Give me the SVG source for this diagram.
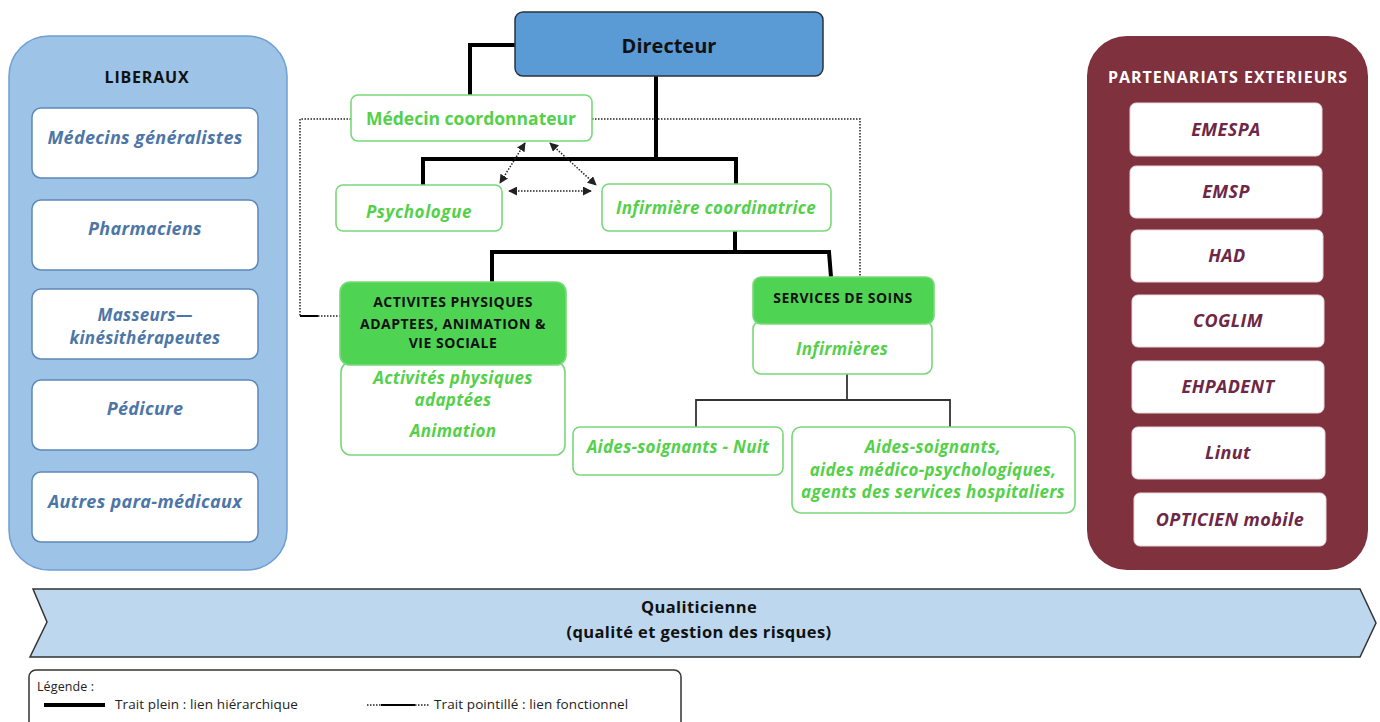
<svg xmlns="http://www.w3.org/2000/svg" width="1380" height="722" viewBox="0 0 1380 722">
<style>
text{font-family:"Open Sans","Noto Sans","Liberation Sans",sans-serif;text-anchor:middle}
.lib{fill:#fff;stroke:#5d88ba;stroke-width:1.5}
.libt{fill:#4d76a8;font-weight:bold;font-style:italic;font-size:18px;letter-spacing:0.3px}
.par{fill:#fff;stroke:#e9d7dc;stroke-width:1}
.part{fill:#6e2746;font-weight:bold;font-style:italic;font-size:18px;letter-spacing:0.4px}
.gbox{fill:#fff;stroke:#79d97a;stroke-width:1.6}
.gfill{fill:#4fd353;stroke:#79d97a;stroke-width:1.6}
.gt{fill:#55d04b;font-weight:bold;font-style:italic;font-size:17px;letter-spacing:0.3px}
.cap{fill:#111;font-weight:bold;font-size:14px;letter-spacing:0.5px}
.hier{fill:none;stroke:#000;stroke-width:4}
.thin{fill:none;stroke:#333;stroke-width:1.8}
.dot{fill:none;stroke:#222;stroke-width:1.5;stroke-dasharray:1.5 1.5}
.leg{font-size:13.5px;fill:#222;text-anchor:start;letter-spacing:0.1px}
.q{font-size:16.5px;font-weight:bold;fill:#111;letter-spacing:0.4px}
</style>
<defs>
<marker id="ah" viewBox="0 0 10 10" refX="9" refY="5" markerWidth="6" markerHeight="6" orient="auto-start-reverse">
<path d="M0,0 L10,5 L0,10 z" fill="#222"/>
</marker>
</defs>

<g id="liberaux">
<rect x="9" y="36" width="278" height="534" rx="40" fill="#9dc3e6" stroke="#6f9fd3" stroke-width="1.5"/>
<text x="147" y="83" class="cap" style="font-size:16px;letter-spacing:0.8px">LIBERAUX</text>
<rect class="lib" x="32" y="108" width="226" height="70" rx="9"/>
<text class="libt" x="145" y="144">Médecins généralistes</text>
<rect class="lib" x="32" y="200" width="226" height="70" rx="9"/>
<text class="libt" x="145" y="235">Pharmaciens</text>
<rect class="lib" x="32" y="289" width="226" height="70" rx="9"/>
<text class="libt" x="145" y="321" style="font-size:17px">Masseurs—</text>
<text class="libt" x="145" y="344" style="font-size:17px">kinésithérapeutes</text>
<rect class="lib" x="32" y="380" width="226" height="70" rx="9"/>
<text class="libt" x="145" y="415">Pédicure</text>
<rect class="lib" x="32" y="472" width="226" height="70" rx="9"/>
<text class="libt" x="145" y="508">Autres para-médicaux</text>
</g>

<g id="partenariats">
<rect x="1087" y="36" width="281" height="534" rx="40" fill="#7f313d"/>
<text x="1228" y="83" class="cap" style="font-size:16px;letter-spacing:1px;fill:#fff">PARTENARIATS EXTERIEURS</text>
<rect class="par" x="1130" y="103" width="192" height="53" rx="6"/>
<text class="part" x="1226" y="136">EMESPA</text>
<rect class="par" x="1130" y="166" width="192" height="52" rx="6"/>
<text class="part" x="1226" y="198">EMSP</text>
<rect class="par" x="1131" y="230" width="192" height="52" rx="6"/>
<text class="part" x="1227" y="262">HAD</text>
<rect class="par" x="1132" y="295" width="192" height="52" rx="6"/>
<text class="part" x="1228" y="327">COGLIM</text>
<rect class="par" x="1132" y="361" width="192" height="52" rx="6"/>
<text class="part" x="1228" y="393">EHPADENT</text>
<rect class="par" x="1132" y="427" width="193" height="52" rx="6"/>
<text class="part" x="1228" y="459">Linut</text>
<rect class="par" x="1134" y="493" width="192" height="53" rx="6"/>
<text class="part" x="1230" y="526">OPTICIEN mobile</text>
</g>

<g id="connectors">
<path class="hier" d="M515,45 H470 V95"/>
<path class="hier" d="M656,76 V159 M423,185 V159 H736 V184"/>
<path class="hier" d="M735,231 V252 M492,282 V252 H829 L831,277"/>
<path class="thin" d="M847,374 V400 M696,427 V400 H950 V427"/>
<path class="dot" d="M351,119 H300 V316 H313"/>
<path fill="none" stroke="#000" stroke-width="2" d="M300,316 H318"/>
<path class="dot" d="M318,316 H340"/>
<path class="dot" d="M592,119 H860 V277"/>
<path class="dot" d="M525,143 L500,183" marker-start="url(#ah)" marker-end="url(#ah)"/>
<path class="dot" d="M550,143 L596,185" marker-start="url(#ah)" marker-end="url(#ah)"/>
<path class="dot" d="M509,191 L591,191" marker-start="url(#ah)" marker-end="url(#ah)"/>
</g>

<g id="directeur">
<rect x="515" y="12" width="308" height="64" rx="8" fill="#5b9bd5" stroke="#2b3340" stroke-width="1.5"/>
<text x="669" y="53" style="font-size:20px;font-weight:bold;fill:#111">Directeur</text>
</g>

<g id="medecin">
<rect class="gbox" x="351" y="95" width="241" height="46" rx="7"/>
<text x="471" y="125" class="gt" style="font-style:normal;font-size:17.5px;letter-spacing:0">Médecin coordonnateur</text>
</g>

<g id="psychologue">
<rect class="gbox" x="336" y="185" width="166" height="46" rx="7"/>
<text x="419" y="218" class="gt" style="letter-spacing:0.6px">Psychologue</text>
</g>

<g id="infirmiere-coord">
<rect class="gbox" x="602" y="184" width="229" height="47" rx="7"/>
<text x="716" y="214" class="gt">Infirmière coordinatrice</text>
</g>

<g id="activites">
<rect class="gbox" x="341" y="362" width="224" height="93" rx="10"/>
<rect class="gfill" x="340" y="282" width="226" height="83" rx="10"/>
<text class="cap" x="453" y="307">ACTIVITES PHYSIQUES</text>
<text class="cap" x="453" y="329">ADAPTEES, ANIMATION &amp;</text>
<text class="cap" x="453" y="348">VIE SOCIALE</text>
<text class="gt" x="453" y="384">Activités physiques</text>
<text class="gt" x="453" y="406">adaptées</text>
<text class="gt" x="453" y="437">Animation</text>
</g>

<g id="services">
<rect class="gbox" x="753" y="321" width="179" height="53" rx="8"/>
<rect class="gfill" x="753" y="277" width="181" height="47" rx="8"/>
<text class="cap" x="843" y="303">SERVICES DE SOINS</text>
<text class="gt" x="842" y="355">Infirmières</text>
</g>

<g id="as-nuit">
<rect class="gbox" x="573" y="427" width="210" height="48" rx="7"/>
<text class="gt" x="678" y="453">Aides-soignants  - Nuit</text>
</g>

<g id="as-jour">
<rect class="gbox" x="792" y="427" width="283" height="86" rx="9"/>
<text class="gt" x="933" y="453">Aides-soignants,</text>
<text class="gt" x="933" y="476">aides  médico-psychologiques,</text>
<text class="gt" x="933" y="498">agents des services  hospitaliers</text>
</g>

<g id="qualiticienne">
<path d="M33,589 H1360 L1376,623 L1360,657 H30 L47,622 Z" fill="#bdd7ee" stroke="#333" stroke-width="1.5"/>
<text x="699" y="613" class="q">Qualiticienne</text>
<text x="699" y="638" class="q">(qualité et gestion des risques)</text>
</g>

<g id="legende">
<rect x="29" y="670" width="652" height="64" rx="7" fill="#fff" stroke="#333" stroke-width="1.5"/>
<text class="leg" x="37" y="691" style="font-size:12.5px">Légende :</text>
<line x1="44" y1="705" x2="105" y2="705" stroke="#000" stroke-width="4"/>
<text class="leg" x="115" y="709">Trait plein : lien hiérarchique</text>
<line x1="367" y1="705" x2="381" y2="705" class="dot"/>
<line x1="381" y1="705" x2="415" y2="705" stroke="#000" stroke-width="2"/>
<line x1="415" y1="705" x2="429" y2="705" class="dot"/>
<text class="leg" x="434" y="709">Trait pointillé : lien fonctionnel</text>
</g>
</svg>
